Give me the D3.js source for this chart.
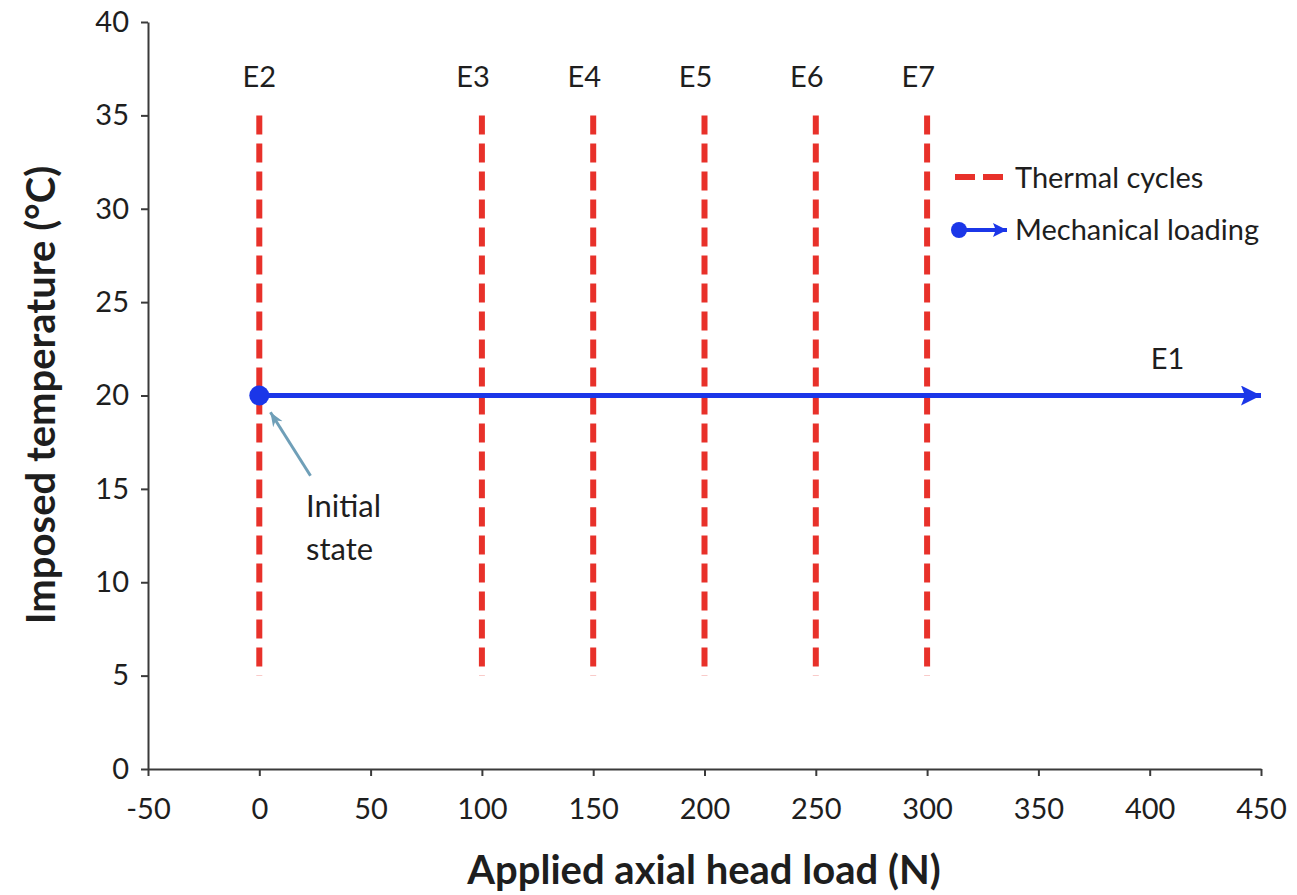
<!DOCTYPE html>
<html>
<head>
<meta charset="utf-8">
<script src="https://cdn.jsdelivr.net/npm/d3@7"></script>
<style>
  body { margin: 0; background: #fff; }
  svg text { font-family: Lato, "Open Sans", sans-serif; fill: #1e1e1e; }
</style>
</head>
<body>
<div id="chart"></div>
<script>
// Data
const xTicks = [-50, 0, 50, 100, 150, 200, 250, 300, 350, 400, 450]
const yTicks = [0, 5, 10, 15, 20, 25, 30, 35, 40]
const cycleLoads = [0, 100, 150, 200, 250, 300]          // thermal cycle tests, N
const cycleLabels = ['E2', 'E3', 'E4', 'E5', 'E6', 'E7']
const cycleLabelLoads = [0, 96, 146, 196, 246, 296]
const cycleLabelTemp = 36.5
const cycleTemps = [5, 35]                                  // temperature range, °C
const loadingLoads = [0, 450]                               // mechanical loading E1
const loadingTemp = 20
const e1Label = { text: 'E1', load: 408, temp: 21.4 }
const initialArrow = { from: [23, 15.7], to: [5, 19.1] }
const initialText = [{ text: 'Initial', load: 21, temp: 13.5 }, { text: 'state', load: 21, temp: 11.2 }]

const width = 1297, height = 895
const red = '#e8312a', blue = '#1b36e8', noteColor = '#6f9fb8', axisColor = '#3a3a3a'
const fontSize = 29

const svg = d3.select('#chart').append('svg').attr('width', width).attr('height', height)

function addHead(id, size, color, d) {
    svg.append('defs').append('marker').attr('id', id).attr('viewBox', '0 0 10 10')
        .attr('refX', 10).attr('refY', 5).attr('markerUnits', 'userSpaceOnUse')
        .attr('markerWidth', size).attr('markerHeight', size).attr('orient', 'auto')
        .append('path').attr('d', d).style('fill', color)
}
addHead('blueHead', 20, blue, 'M0,0 L10,5 L0,10 L2,5 Z')
addHead('legendHead', 14, blue, 'M0,0 L10,5 L0,10 L2,5 Z')
addHead('noteHead', 14, noteColor, 'M0,1 L10,5 L0,9 L3,5 Z')

const x = d3.scaleLinear().domain([-50, 450]).range([148, 1261])
const y = d3.scaleLinear().domain([0, 40]).range([769, 22])

// axes
const xAxis = svg.append('g').attr('transform', 'translate(0,' + y(0) + ')')
    .call(d3.axisBottom(x).tickValues(xTicks).tickFormat(d => String(d)).tickSize(7).tickSizeOuter(0).tickPadding(22))
const yAxis = svg.append('g').attr('transform', 'translate(' + x(-50) + ',0)')
    .call(d3.axisLeft(y).tickValues(yTicks).tickFormat(d => String(d)).tickSize(7).tickSizeOuter(0).tickPadding(12))
for (let g of [xAxis, yAxis]) {
    g.selectAll('path, line').style('stroke', axisColor).style('stroke-width', 2)
    g.selectAll('text').style('font-size', fontSize + 'px').style('font-family', 'Lato, sans-serif').style('fill', '#1e1e1e')
}

// thermal cycle lines
svg.selectAll('.cycle').data(cycleLoads).enter().append('line')
    .attr('class', 'cycle')
    .attr('x1', d => x(d)).attr('x2', d => x(d))
    .attr('y1', y(cycleTemps[1])).attr('y2', y(cycleTemps[0]))
    .style('stroke', red).style('stroke-width', 6).style('stroke-dasharray', '19 9')

svg.selectAll('.cycle-label').data(cycleLabels).enter().append('text')
    .attr('class', 'cycle-label')
    .attr('x', (d, i) => x(cycleLabelLoads[i])).attr('y', y(cycleLabelTemp))
    .attr('text-anchor', 'middle').style('font-size', fontSize + 'px').text(d => d)

// mechanical loading
svg.append('line')
    .attr('x1', x(loadingLoads[0])).attr('x2', x(loadingLoads[1]))
    .attr('y1', y(loadingTemp)).attr('y2', y(loadingTemp))
    .style('stroke', blue).style('stroke-width', 5).attr('marker-end', 'url(#blueHead)')
svg.append('circle').attr('cx', x(loadingLoads[0])).attr('cy', y(loadingTemp)).attr('r', 10).style('fill', blue)

svg.append('text').attr('x', x(e1Label.load)).attr('y', y(e1Label.temp))
    .attr('text-anchor', 'middle').style('font-size', fontSize + 'px').text(e1Label.text)

// initial state annotation
svg.append('line')
    .attr('x1', x(initialArrow.from[0])).attr('y1', y(initialArrow.from[1]))
    .attr('x2', x(initialArrow.to[0])).attr('y2', y(initialArrow.to[1]))
    .style('stroke', noteColor).style('stroke-width', 3).attr('marker-end', 'url(#noteHead)')
svg.selectAll('.note').data(initialText).enter().append('text')
    .attr('x', d => x(d.load)).attr('y', d => y(d.temp))
    .style('font-size', '31px').text(d => d.text)

// legend
const legend = svg.append('g').attr('transform', 'translate(955,0)')
legend.append('line').attr('x1', 0).attr('x2', 52).attr('y1', 177).attr('y2', 177)
    .style('stroke', red).style('stroke-width', 6).style('stroke-dasharray', '20 8')
legend.append('text').attr('x', 60).attr('y', 188).style('font-size', fontSize + 'px').text('Thermal cycles')
legend.append('line').attr('x1', 4).attr('x2', 52).attr('y1', 230).attr('y2', 230)
    .style('stroke', blue).style('stroke-width', 4).attr('marker-end', 'url(#legendHead)')
legend.append('circle').attr('cx', 4).attr('cy', 230).attr('r', 8).style('fill', blue)
legend.append('text').attr('x', 60).attr('y', 240).style('font-size', fontSize + 'px').text('Mechanical loading')

// axis titles
svg.append('text').attr('x', 704).attr('y', 884).attr('text-anchor', 'middle')
    .style('font-size', '40px').style('font-weight', 'bold').text('Applied axial head load (N)')
svg.append('text').attr('transform', 'translate(55,' + 395 + ') rotate(-90)')
    .attr('text-anchor', 'middle')
    .style('font-size', '40px').style('font-weight', 'bold').text('Imposed temperature (°C)')
</script>
</body>
</html>
